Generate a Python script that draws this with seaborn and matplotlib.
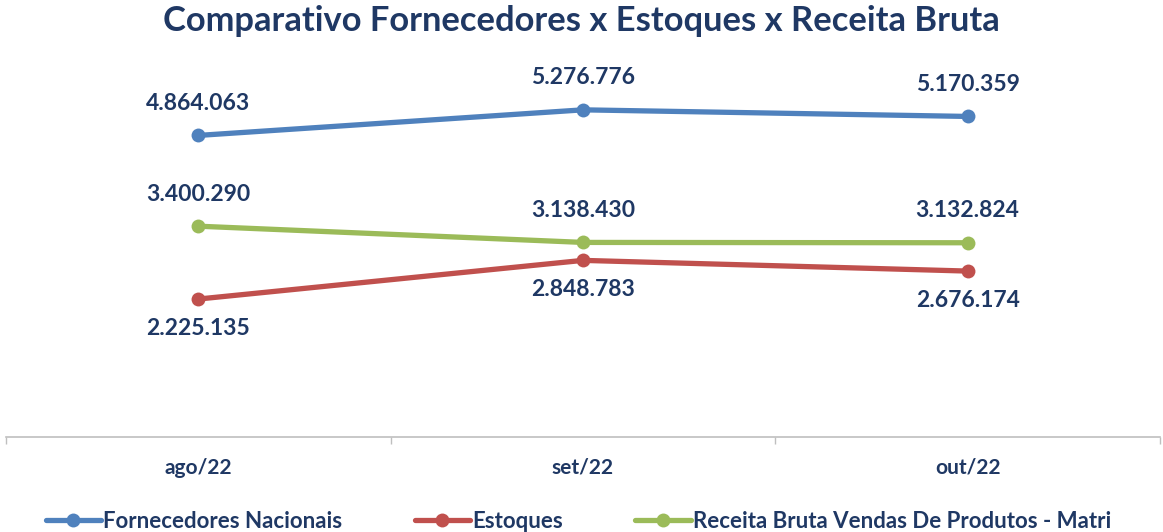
import matplotlib
matplotlib.use("Agg")
import matplotlib.pyplot as plt
import numpy as np
import pandas as pd
import seaborn as sns

# dados do gráfico
meses = ["ago/22", "set/22", "out/22"]
fornecedores = [4864063, 5276776, 5170359]
estoques = [2225135, 2848783, 2676174]
receita = [3400290, 3138430, 3132824]

series = [
    ("Fornecedores Nacionais", fornecedores, "#4F81BD", "above"),
    ("Estoques", estoques, "#C0504D", "below"),
    ("Receita Bruta Vendas De Produtos - Matri", receita, "#9BBB59", "above"),
]

navy = "#1F3864"
sns.set_theme(style="white")
plt.rcParams["font.family"] = ["Lato", "DejaVu Sans"]

fig = plt.figure(figsize=(11.63, 5.32), dpi=100)
ax = fig.add_axes([6 / 1163, 95 / 532, 1154 / 1163, 372 / 532])

x = np.arange(len(meses))
for nome, vals, cor, pos in series:
    df = pd.DataFrame({"x": x, "valor": vals})
    sns.lineplot(data=df, x="x", y="valor", ax=ax, color=cor, linewidth=3.8,
                 marker="o", markersize=10, markeredgewidth=0, label=nome)
    for xi, v in zip(x, vals):
        txt = f"{v:,}".replace(",", ".")
        off = 23 if pos == "above" else -21
        ax.annotate(txt, (xi, v), xytext=(0, off), textcoords="offset points",
                    ha="center", va="center", fontsize=16.5, fontweight="bold",
                    color=navy)

ax.set_xlim(-0.5, len(meses) - 0.5)
ax.set_ylim(0, 6000000)
ax.set_xlabel("")
ax.set_ylabel("")
ax.set_yticks([])
ax.set_xticks(x)
ax.set_xticklabels(meses, fontsize=15, fontweight="bold", color=navy)
ax.set_xticks(np.arange(-0.5, len(meses)), minor=True)
ax.tick_params(axis="x", which="major", length=0, pad=15)
ax.tick_params(axis="x", which="minor", length=5, color="#BFBFBF", width=1,
               bottom=True)
for s in ["top", "right", "left"]:
    ax.spines[s].set_visible(False)
ax.spines["bottom"].set_color("#BFBFBF")
ax.spines["bottom"].set_linewidth(1.2)

handles, labels = ax.get_legend_handles_labels()
ax.get_legend().remove()
fig.legend(handles, labels, loc="lower left", bbox_to_anchor=(0.022, -0.037),
           ncol=3, frameon=False, handlelength=2.5,
           handletextpad=0.1, columnspacing=3.25,
           prop={"weight": "bold", "size": 16})
for t in fig.legends[0].get_texts():
    t.set_color(navy)

fig.suptitle("Comparativo Fornecedores x Estoques x Receita Bruta",
             x=0.5, y=0.99, fontsize=24.8, fontweight="bold", color=navy)

fig.savefig("out.png", dpi=100)
